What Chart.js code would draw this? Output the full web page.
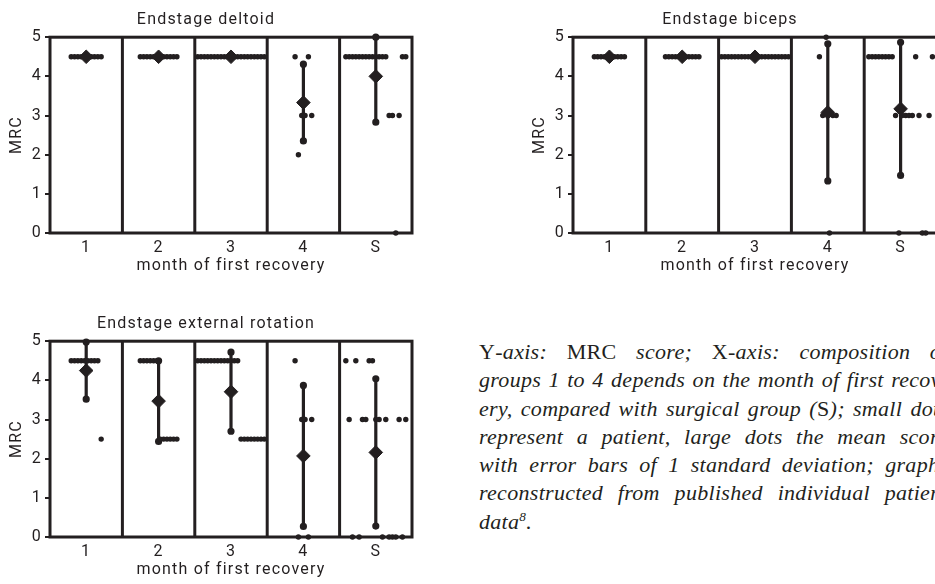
<!DOCTYPE html>
<html>
<head>
<meta charset="utf-8">
<script src="https://cdn.jsdelivr.net/npm/chart.js@4.4.1/dist/chart.umd.min.js"></script>
<style>
  html, body { margin: 0; padding: 0; background: #fff; }
  body { width: 935px; height: 584px; position: relative; overflow: hidden; }
  canvas { position: absolute; }
  #caption {
    position: absolute; left: 479px; top: 338px; width: 469px;
    font-family: 'Liberation Serif', serif; font-style: italic;
    font-size: 22px; line-height: 28.3px; color: #231f20; letter-spacing: 0.3px;
  }
  #caption .line { display: inline-block; white-space: nowrap; }
  #caption .up { font-style: normal; }
  #caption sup { font-size: 0.6em; line-height: 0; }
</style>
</head>
<body>
<canvas id="deltoid" width="430" height="277" style="left:0;top:0"></canvas>
<canvas id="biceps" width="432" height="277" style="left:523px;top:0"></canvas>
<canvas id="extrot" width="430" height="277" style="left:0;top:304px"></canvas>

<div id="caption">
<div><span class="line fill"><span class="up">Y</span>-axis: <span class="up">MRC</span> score; <span class="up">X</span>-axis: composition of</span></div>
<div><span class="line fill">groups 1 to 4 depends on the month of first recov-</span></div>
<div><span class="line fill">ery, compared with surgical group (<span class="up">S</span>); small dots</span></div>
<div><span class="line fill">represent a patient, large dots the mean score</span></div>
<div><span class="line fill">with error bars of 1 standard deviation; graphs</span></div>
<div><span class="line fill">reconstructed from published individual patient</span></div>
<div><span class="line">data<sup>8</sup>.</span></div>
</div>

<script>
// groups on the x axis
const groupLabels = ['1', '2', '3', '4', 'S'];
const mrcMin = 0;
const mrcMax = 5;

// one score per patient, in plotting order within each group
const deltoidScores = [
  [4.5, 4.5, 4.5, 4.5, 4.5, 4.5, 4.5, 4.5, 4.5, 4.5],
  [4.5, 4.5, 4.5, 4.5, 4.5, 4.5, 4.5, 4.5, 4.5, 4.5, 4.5, 4.5],
  [4.5, 4.5, 4.5, 4.5, 4.5, 4.5, 4.5, 4.5, 4.5, 4.5, 4.5, 4.5, 4.5, 4.5, 4.5, 4.5, 4.5, 4.5, 4.5, 4.5, 4.5],
  [4.5, 2, 3, 3, 4.5, 3],
  [4.5, 4.5, 4.5, 4.5, 4.5, 4.5, 4.5, 4.5, 4.5, 4.5, 4.5, 4.5, 4.5, 3, 3, 0, 3, 4.5, 4.5]
];
const deltoidMean = [4.5, 4.5, 4.5, 3.33, 4.0];
const deltoidSd = [0, 0, 0, 0.98, 1.17];

const bicepsScores = [
  [4.5, 4.5, 4.5, 4.5, 4.5, 4.5, 4.5, 4.5, 4.5, 4.5],
  [4.5, 4.5, 4.5, 4.5, 4.5, 4.5, 4.5, 4.5, 4.5, 4.5, 4.5],
  [4.5, 4.5, 4.5, 4.5, 4.5, 4.5, 4.5, 4.5, 4.5, 4.5, 4.5, 4.5, 4.5, 4.5, 4.5, 4.5, 4.5, 4.5, 4.5, 4.5, 4.5],
  [4.5, 3, 5, 0, 3, 3],
  [4.5, 4.5, 4.5, 4.5, 4.5, 4.5, 4.5, 4.5, 3, 0, 3, 3, 3, 3, 4.5, 3, 0, 0, 3, 4.5]
];
const bicepsMean = [4.5, 4.5, 4.5, 3.08, 3.17];
const bicepsSd = [0, 0, 0, 1.75, 1.70];

const extRotScores = [
  [4.5, 4.5, 4.5, 4.5, 4.5, 4.5, 4.5, 4.5, 4.5, 2.5],
  [4.5, 4.5, 4.5, 4.5, 4.5, 4.5, 2.5, 2.5, 2.5, 2.5, 2.5, 2.5],
  [4.5, 4.5, 4.5, 4.5, 4.5, 4.5, 4.5, 4.5, 4.5, 4.5, 4.5, 4.5, 4.5, 2.5, 2.5, 2.5, 2.5, 2.5, 2.5, 2.5, 2.5],
  [4.5, 0, 3, 3, 0, 3],
  [4.5, 3, 0, 4.5, 0, 3, 3, 4.5, 4.5, 3, 3, 0, 3, 0, 0, 0, 3, 0, 3]
];
const extRotMean = [4.25, 3.47, 3.71, 2.07, 2.16];
const extRotSd = [0.73, 1.03, 1.01, 1.80, 1.88];

const ink = '#231f20';
const dotStep = 0.046; // horizontal spread between patients, in group units

Chart.defaults.font.family = 'Roboto';
Chart.defaults.font.size = 16;
Chart.defaults.color = ink;

// the original uses a widely tracked DIN-like face
const trackingPlugin = {
  id: 'tracking',
  beforeDraw(chart) { chart.ctx.letterSpacing = '1.2px'; }
};

// box round the plot and the lines between groups
const framePlugin = {
  id: 'frame',
  beforeDatasetsDraw(chart) {
    const { ctx, chartArea: a } = chart;
    const x = chart.scales.x;
    ctx.save();
    ctx.strokeStyle = ink;
    ctx.lineWidth = 3;
    for (let g = 1; g < groupLabels.length; g++) {
      const px = x.getPixelForValue(g + 0.5);
      ctx.beginPath();
      ctx.moveTo(px, a.top);
      ctx.lineTo(px, a.bottom);
      ctx.stroke();
    }
    ctx.strokeRect(a.left, a.top, a.right - a.left, a.bottom - a.top);
    ctx.restore();
  }
};

function buildChart( id, title, scores, means, sds ) {

  const dots = [];
  scores.forEach(( list, g ) => {
    list.forEach(( v, i ) => {
      dots.push({ x: g + 1 + ( i - ( list.length - 1 ) / 2 ) * dotStep, y: v });
    });
  });

  const datasets = [
    {
      data: means.map(( m, g ) => ({ x: g + 1, y: m })),
      pointStyle: 'rectRot',
      pointRadius: 6.8,
      backgroundColor: ink,
      borderColor: ink,
      borderWidth: 1,
      clip: 8,
      order: 0
    },
    {
      data: dots,
      pointRadius: 2.7,
      backgroundColor: ink,
      borderWidth: 0,
      clip: 6,
      order: 1
    }
  ];

  // error bars of 1 sd
  means.forEach(( m, g ) => {
    if ( !sds[g] ) return;
    datasets.push({
      data: [
        { x: g + 1, y: Math.max( mrcMin, m - sds[g] ) },
        { x: g + 1, y: Math.min( mrcMax, m + sds[g] ) }
      ],
      showLine: true,
      borderColor: ink,
      borderWidth: 3.2,
      backgroundColor: ink,
      pointRadius: 2,
      clip: 6,
      order: 2
    });
  });

  return new Chart( document.getElementById( id ), {
    type: 'scatter',
    data: { datasets },
    options: {
      responsive: false,
      devicePixelRatio: 1,
      animation: false,
      layout: { padding: { top: 2, right: 18, left: 0, bottom: 0 } },
      plugins: {
        legend: { display: false },
        tooltip: { enabled: false },
        title: {
          display: true,
          text: title,
          font: { size: 16, weight: 'normal' },
          color: ink,
          padding: { top: 8, bottom: 8 }
        }
      },
      scales: {
        x: {
          type: 'linear',
          min: 0.5,
          max: groupLabels.length + 0.5,
          afterBuildTicks: s => { s.ticks = groupLabels.map(( l, i ) => ({ value: i + 1 })); },
          afterFit: s => { s.height = 44; },
          ticks: {
            callback: v => groupLabels[v - 1],
            padding: -3,
            font: { size: 16 },
            color: ink
          },
          grid: { display: false },
          border: { display: false },
          title: {
            display: true,
            text: 'month of first recovery',
            font: { size: 16 },
            color: ink,
            padding: { top: 0, bottom: 1 }
          }
        },
        y: {
          min: mrcMin,
          max: mrcMax,
          afterFit: s => { s.width = 50; },
          ticks: { stepSize: 1, padding: 3, font: { size: 16 }, color: ink },
          grid: { drawOnChartArea: false, drawTicks: true, tickLength: 5, color: ink, lineWidth: 2 },
          border: { display: false },
          title: {
            display: true,
            text: 'MRC',
            font: { size: 16 },
            color: ink,
            padding: { top: 7, bottom: 0 }
          }
        }
      }
    },
    plugins: [ trackingPlugin, framePlugin ]
  });
}

buildChart( 'deltoid', 'Endstage deltoid', deltoidScores, deltoidMean, deltoidSd );
buildChart( 'biceps', 'Endstage biceps', bicepsScores, bicepsMean, bicepsSd );
buildChart( 'extrot', 'Endstage external rotation', extRotScores, extRotMean, extRotSd );

// justify every caption line across the column by widening the word gaps
const captionWidth = 469;
document.querySelectorAll( '#caption .fill' ).forEach( el => {
  const gaps = ( el.textContent.match( / /g ) || [] ).length;
  if ( gaps ) el.style.wordSpacing = ( ( captionWidth - el.offsetWidth ) / gaps ) + 'px';
});
</script>
</body>
</html>
